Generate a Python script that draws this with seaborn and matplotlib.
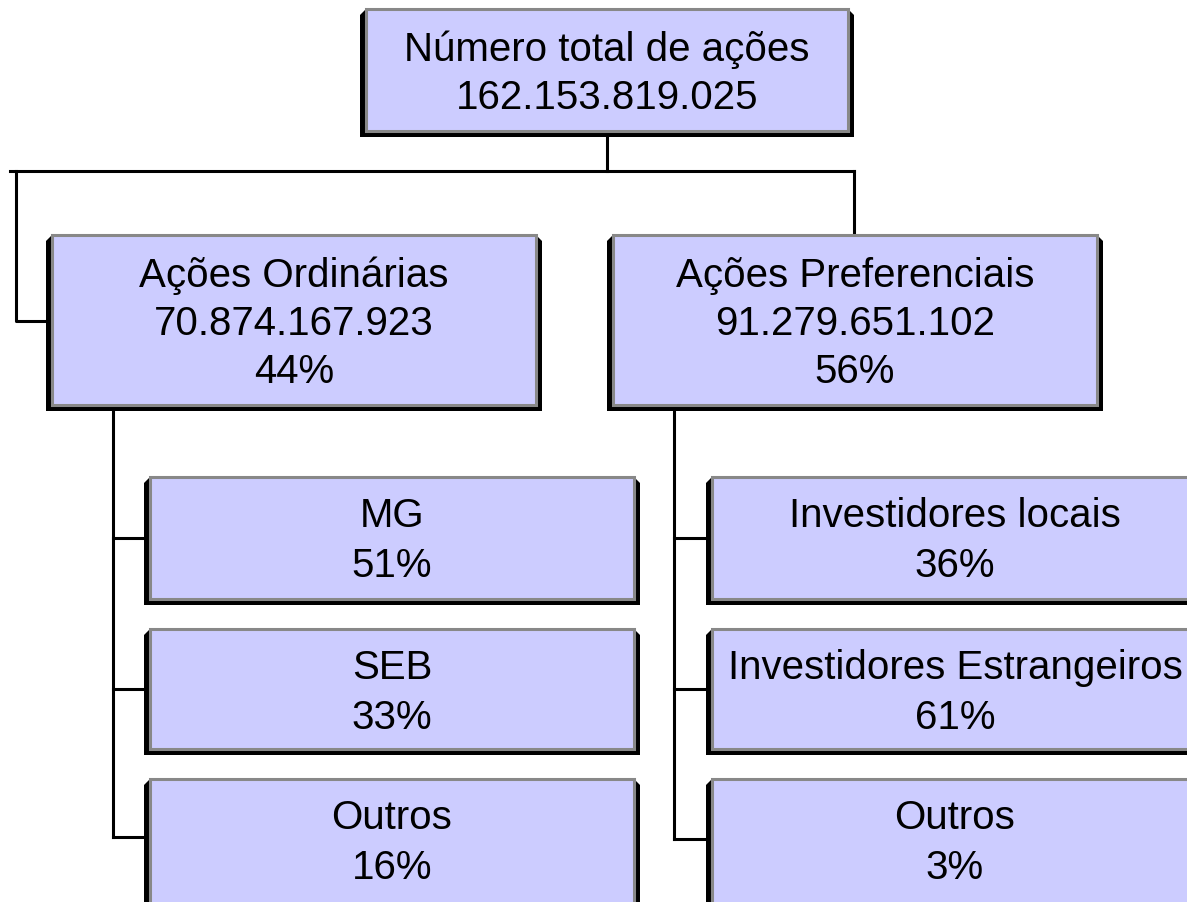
import matplotlib
matplotlib.use("Agg")
import matplotlib.pyplot as plt
import matplotlib.patches as mpatches
import seaborn as sns

# data
top_title = "Número total de ações"
top_total = "162.153.819.025"
classes = ["Ações Ordinárias", "Ações Preferenciais"]
class_shares = ["70.874.167.923", "91.279.651.102"]
class_pct = [44, 56]
holders_on = ["MG", "SEB", "Outros"]
pct_on = [51, 33, 16]
holders_pn = ["Investidores locais", "Investidores Estrangeiros", "Outros"]
pct_pn = [36, 61, 3]

sns.set_theme(style="white")
plt.rcParams["font.family"] = ["Liberation Sans", "DejaVu Sans"]

FILL = "#ccccff"
EDGE = "#888888"
FS = 29

fig = plt.figure(figsize=(11.87, 9.03), dpi=100)
ax = fig.add_axes([0, 0, 1, 1])
ax.set_xlim(0, 1187)
ax.set_ylim(903, 0)
ax.axis("off")


def box(x0, y0, x1, y1, lines, cx=None, cy=None, step=48):
    # black drop shadow behind, grey-edged lilac box on top
    ax.add_patch(mpatches.Polygon(
        [(x0 - 6, y0 + 6), (x0 - 1, y0 + 1), (x1 + 1, y0 + 1), (x1 + 6, y0 + 6),
         (x1 + 6, y1 + 6), (x0 - 6, y1 + 6)],
        closed=True, facecolor="black", edgecolor="none", zorder=2))
    ax.add_patch(mpatches.Rectangle((x0, y0), x1 - x0, y1 - y0, facecolor=FILL,
                                    edgecolor=EDGE, linewidth=2.2, zorder=3))
    if cx is None:
        cx = (x0 + x1) / 2
    if cy is None:
        cy = (y0 + y1) / 2 + 3
    n = len(lines)
    for i, t in enumerate(lines):
        ax.text(cx, cy + (i - (n - 1) / 2) * step, t, ha="center", va="center",
                fontsize=FS, color="black", zorder=4)


def line(xs, ys):
    ax.plot(xs, ys, color="black", linewidth=2.2, zorder=1, solid_capstyle="projecting")


# connectors
line([607, 607], [132, 172])
line([10, 854], [172, 172])
line([854, 854], [172, 236])
line([16, 16, 46], [172, 322, 322])
line([113, 113], [412, 838])
line([674, 674], [412, 840])
for y in [539, 690, 838]:
    line([113, 145], [y, y])
for y in [539, 690, 840]:
    line([674, 706], [y, y])

# top node
box(366, 10, 848, 132, [top_title, top_total])

# level 1
l1_x = [(52, 536), (613, 1097)]
for (x0, x1), name, sh, p in zip(l1_x, classes, class_shares, class_pct):
    box(x0, 236, x1, 406, [name, sh, f"{p}%"])

# level 2
rows = [(478, 600), (630, 750), (780, 920)]
for (y0, y1), name, p in zip(rows, holders_on, pct_on):
    box(150, y0, 634, y1, [name, f"{p}%"], cy=y0 + 63, step=50)
for (y0, y1), name, p in zip(rows, holders_pn, pct_pn):
    box(712, y0, 1200, y1, [name, f"{p}%"], cx=955, cy=y0 + 63, step=50)

fig.savefig("out.png", dpi=100)
